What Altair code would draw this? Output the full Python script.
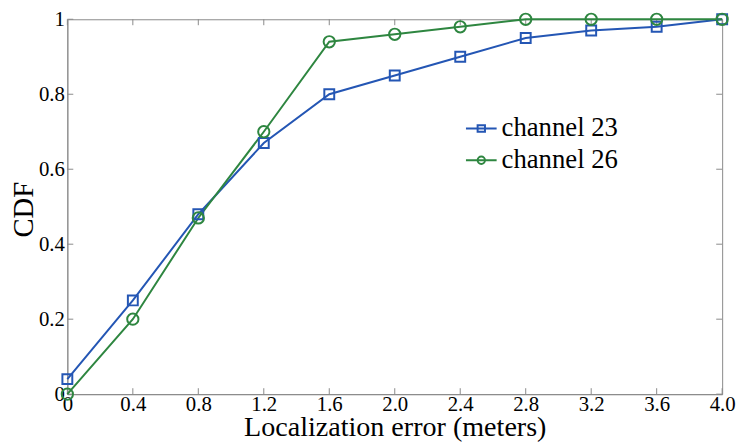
import altair as alt
import pandas as pd

x_vals = [0, 0.4, 0.8, 1.2, 1.6, 2.0, 2.4, 2.8, 3.2, 3.6, 4.0]
ch23 = [0.04, 0.25, 0.48, 0.67, 0.80, 0.85, 0.90, 0.95, 0.97, 0.98, 1.0]
ch26 = [0.0, 0.20, 0.47, 0.70, 0.94, 0.96, 0.98, 1.0, 1.0, 1.0, 1.0]
series = ["channel 23", "channel 26"]
colors = ["#2456b4", "#2e8640"]
legend_shapes = [
    "M-1,0H1M-0.24,-0.21H0.24V0.21H-0.24Z",
    "M-1,0H1M0.24,0A0.24,0.24,0,1,1,-0.24,0A0.24,0.24,0,1,1,0.24,0Z",
]
x_ticks = [0, 0.4, 0.8, 1.2, 1.6, 2.0, 2.4, 2.8, 3.2, 3.6, 4.0]
y_ticks = [0, 0.2, 0.4, 0.6, 0.8, 1.0]

W, H = 662, 379
GRAY = "#8a8a8a"
FONT = "Liberation Serif, Times New Roman, serif"

df = pd.DataFrame({
    "x": x_vals + x_vals,
    "y": ch23 + ch26,
    "s": [series[0]] * len(x_vals) + [series[1]] * len(x_vals),
})
xt = pd.DataFrame({"t": x_ticks})
yt = pd.DataFrame({"t": y_ticks})

xs = alt.Scale(domain=[0, 4], nice=False, zero=False)
ys = alt.Scale(domain=[0, 1], nice=False, zero=False)
cs = alt.Scale(domain=series, range=colors)

x_enc = alt.X("x:Q", scale=xs, axis=alt.Axis(
    values=x_ticks, title="Localization error (meters)",
    labelExpr="datum.value == 0 ? '0' : format(datum.value, '.1f')",
    labelPadding=0, titleY=42, titleBaseline="alphabetic", titleFontSize=28.4,
    labelFlush=False, labelOverlap=False))
y_enc = alt.Y("y:Q", scale=ys, axis=alt.Axis(
    values=y_ticks, title="CDF",
    labelExpr="(datum.value == 0 || datum.value == 1) ? format(datum.value, 'd') : format(datum.value, '.1f')",
    labelPadding=3, titleX=-35, titleY=192, titleBaseline="alphabetic",
    titleAngle=270, titleFontSize=29,
    labelFlush=False, labelOverlap=False))

lines = alt.Chart(df).mark_line(strokeWidth=2).encode(
    x=x_enc, y=y_enc,
    color=alt.Color("s:N", scale=cs, legend=None),
    detail="s:N",
)
pts23 = alt.Chart(df).transform_filter(
    alt.datum.s == series[0]
).mark_point(filled=False, strokeWidth=2, opacity=1, shape="square", size=100).encode(
    x="x:Q", y="y:Q",
    color=alt.Color("s:N", scale=cs, legend=None),
)
pts26 = alt.Chart(df).transform_filter(
    alt.datum.s == series[1]
).mark_point(filled=False, strokeWidth=2, opacity=1, shape="circle", size=130).encode(
    x="x:Q", y="y:Q",
    color=alt.Color("s:N", scale=cs, legend=None),
)


def legend_entry(i, ly):
    return alt.Chart(df).transform_filter("false").mark_point(
        filled=False, strokeWidth=2, size=961, opacity=1, color=colors[i]
    ).encode(
        x="x:Q", y="y:Q",
        shape=alt.Shape("s:N", scale=alt.Scale(domain=[series[i]], range=[legend_shapes[i]]),
                        legend=alt.Legend(title=None, orient="none", legendX=402, legendY=ly,
                                          symbolStrokeColor=colors[i])),
    )


leg23 = legend_entry(0, 94)
leg26 = legend_entry(1, 126)

tick_len = 6
bottom_ticks = alt.Chart(xt).mark_rule(color=GRAY, strokeWidth=1).encode(
    x=alt.X("t:Q", scale=xs), y=alt.value(H), y2=alt.value(H - tick_len))
top_ticks = alt.Chart(xt).mark_rule(color=GRAY, strokeWidth=1).encode(
    x=alt.X("t:Q", scale=xs), y=alt.value(0), y2=alt.value(tick_len))
left_ticks = alt.Chart(yt).mark_rule(color=GRAY, strokeWidth=1).encode(
    y=alt.Y("t:Q", scale=ys), x=alt.value(0), x2=alt.value(tick_len))
right_ticks = alt.Chart(yt).mark_rule(color=GRAY, strokeWidth=1).encode(
    y=alt.Y("t:Q", scale=ys), x=alt.value(W), x2=alt.value(W - tick_len))

chart = alt.layer(
    bottom_ticks, top_ticks, left_ticks, right_ticks, lines, pts23, pts26, leg23, leg26
).resolve_scale(shape="independent").resolve_legend(shape="independent").properties(
    width=W, height=H,
    autosize=alt.AutoSizeParams(type="none"),
    padding={"left": 60, "top": 9, "right": 14, "bottom": 48},
).configure_axis(
    domainColor=GRAY, domainWidth=1, ticks=False, tickSize=0, grid=False,
    labelFont=FONT, labelFontSize=21, labelColor="black",
    titleFont=FONT, titleFontSize=28, titleColor="black", titleFontWeight="normal",
).configure_view(
    stroke=GRAY, strokeWidth=1,
).configure_legend(
    padding=0,
    labelFont=FONT, labelFontSize=27, labelColor="black", labelOffset=4,
    symbolSize=961, symbolStrokeWidth=2, rowPadding=0,
)

chart.save("out.html", embed_options={"renderer": "svg", "actions": False})
